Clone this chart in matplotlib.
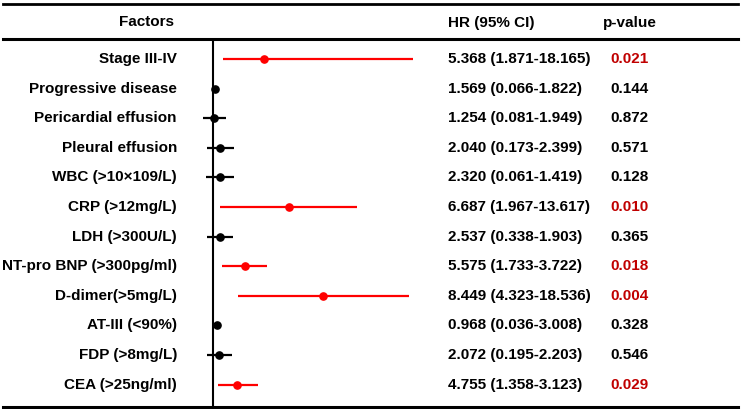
import matplotlib
matplotlib.use("Agg")
import matplotlib.pyplot as plt
from matplotlib.lines import Line2D

# ---- data ----
factors = ["Stage III-IV", "Progressive disease", "Pericardial effusion", "Pleural effusion",
           "WBC (>10×109/L)", "CRP (>12mg/L)", "LDH (>300U/L)", "NT-pro BNP (>300pg/ml)",
           "D-dimer(>5mg/L)", "AT-III (<90%)", "FDP (>8mg/L)", "CEA (>25ng/ml)"]
hr_text = ["5.368 (1.871-18.165)", "1.569 (0.066-1.822)", "1.254 (0.081-1.949)",
           "2.040 (0.173-2.399)", "2.320 (0.061-1.419)", "6.687 (1.967-13.617)",
           "2.537 (0.338-1.903)", "5.575 (1.733-3.722)", "8.449 (4.323-18.536)",
           "0.968 (0.036-3.008)", "2.072 (0.195-2.203)", "4.755 (1.358-3.123)"]
p_values = ["0.021", "0.144", "0.872", "0.571", "0.128", "0.010",
            "0.365", "0.018", "0.004", "0.328", "0.546", "0.029"]
# plotted positions as drawn (reference line at 1)
point = [6.16, 1.26, 1.16, 1.70, 1.70, 8.60, 1.73, 4.23, 12.06, 1.46, 1.63, 3.46]
lower = [2.06, 1.20, 0.06, 0.40, 0.33, 1.73, 0.46, 1.96, 3.56, 1.40, 0.40, 1.53]
upper = [21.06, 1.30, 2.30, 3.13, 3.13, 15.40, 3.06, 6.46, 20.60, 1.50, 2.90, 5.50]
headers = ["Factors", "HR (95% CI)", "p-value"]

W, H = 742, 409
fig = plt.figure(figsize=(W / 100, H / 100), dpi=100)
plt.rcParams['font.family'] = ['Liberation Sans', 'DejaVu Sans']

def fx(px):
    return px / W

def fy(py):
    return 1 - py / H

row_y0, row_dy = 59.0, 29.6
top_line, head_line, bot_line = 4.0, 39.0, 406.5

# forest axes
ax_l, ax_r = 180.0, 440.0
ref_px = 212.7
ax = fig.add_axes([fx(ax_l), fy(bot_line), fx(ax_r) - fx(ax_l), (bot_line - head_line) / H])
ax.set_xlim(1 - (ref_px - ax_l) / 10, 1 + (ax_r - ref_px) / 10)
n = len(factors)
ax.set_ylim(n - 1 + (bot_line - (row_y0 + row_dy * (n - 1))) / row_dy, -(row_y0 - head_line) / row_dy)
ax.axis('off')
ax.axvline(1, color='black', lw=1.5, zorder=1)

for i in range(n):
    sig = float(p_values[i]) < 0.05
    c = '#ff0000' if sig else '#000000'
    ax.plot([lower[i], upper[i]], [i, i], color=c, lw=1.6, solid_capstyle='butt', zorder=2)
    ax.plot(point[i], i, 'o', color=c, markersize=5.2, zorder=3)

# horizontal rules
for yy, lw in [(top_line, 2.0), (head_line, 2.2), (bot_line, 2.2)]:
    fig.add_artist(Line2D([fx(3), fx(738)], [fy(yy), fy(yy)], color='black', lw=lw))

fs = 11
head_y = 22.5
fig.text(fx(147), fy(head_y), headers[0], ha='center', va='center', fontsize=fs, fontweight='bold')
fig.text(fx(448), fy(head_y), headers[1], ha='left', va='center', fontsize=fs, fontweight='bold')
fig.text(fx(603), fy(head_y), headers[2], ha='left', va='center', fontsize=fs, fontweight='bold')

for i in range(n):
    y = row_y0 + row_dy * i
    sig = float(p_values[i]) < 0.05
    fig.text(fx(177), fy(y), factors[i], ha='right', va='center', fontsize=fs, fontweight='bold')
    fig.text(fx(448), fy(y), hr_text[i], ha='left', va='center', fontsize=fs, fontweight='bold')
    fig.text(fx(610), fy(y), p_values[i], ha='left', va='center', fontsize=fs, fontweight='bold',
             color='#c00000' if sig else 'black')

fig.savefig("out.png", dpi=100)
